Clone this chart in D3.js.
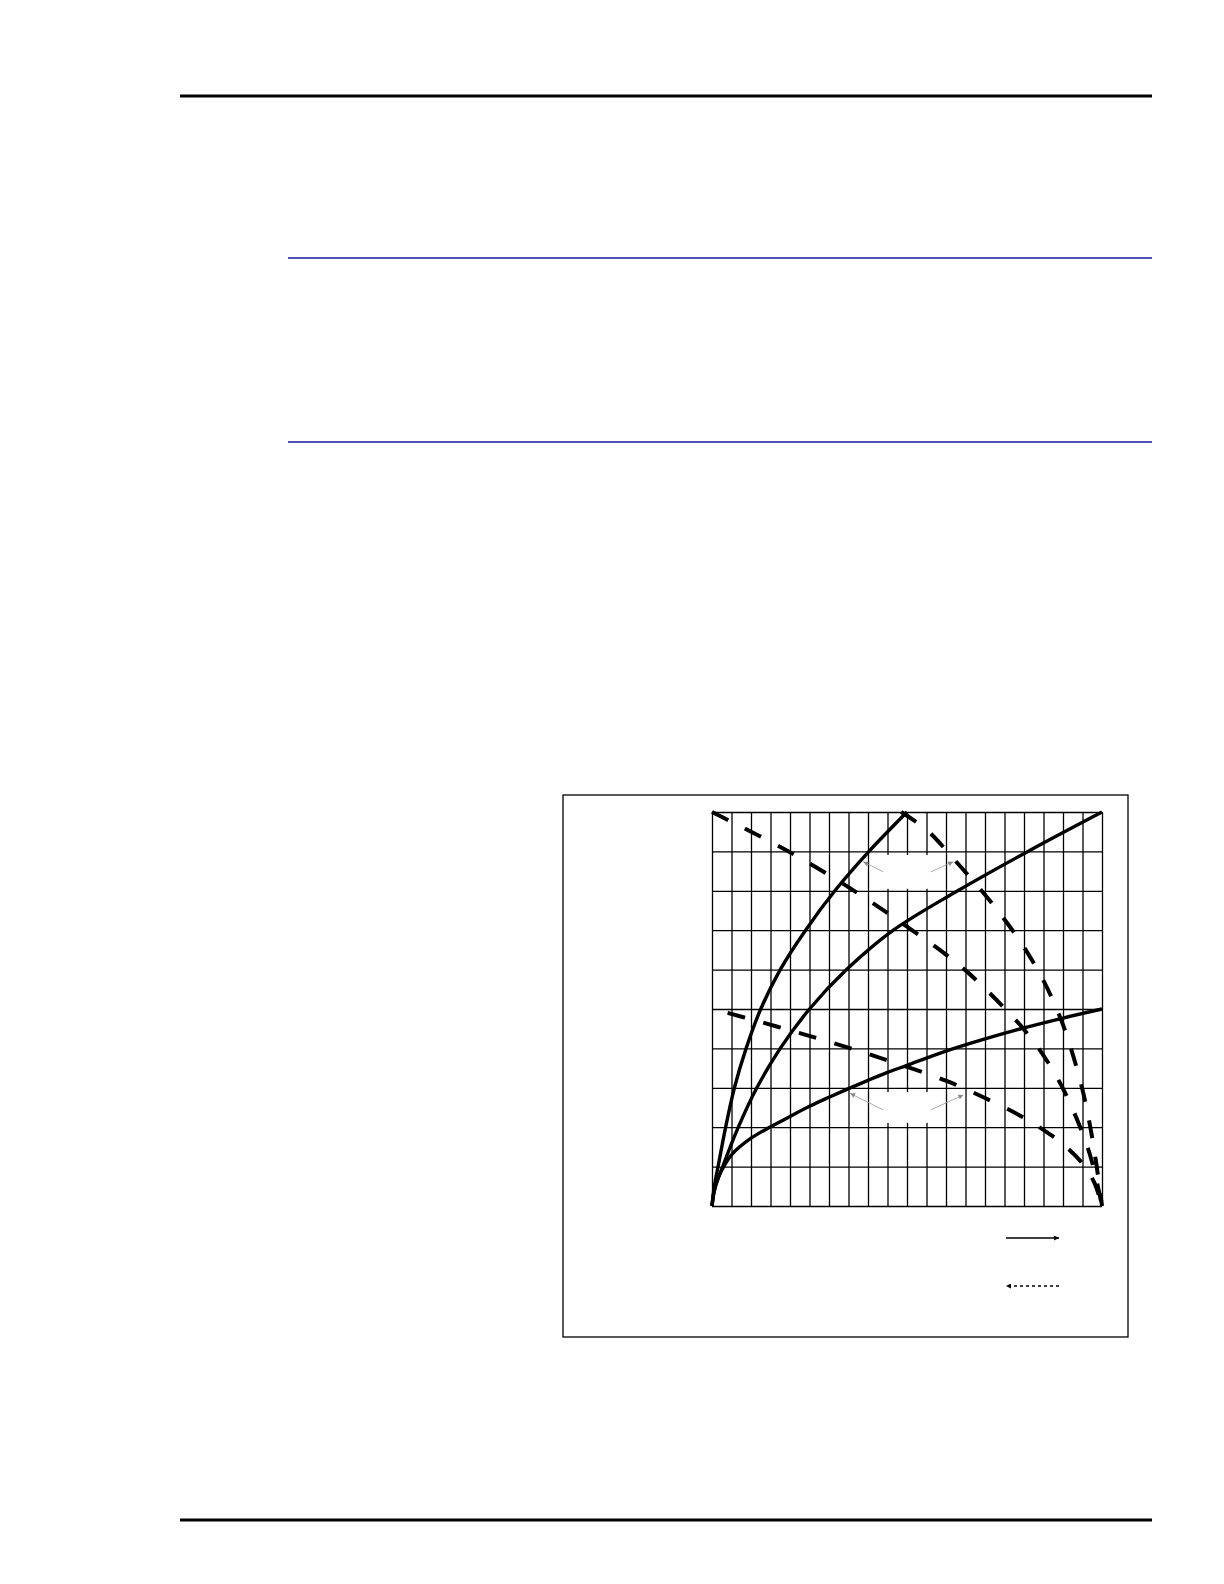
<!DOCTYPE html>
<html>
<head>
<meta charset="utf-8">
<script src="https://cdn.jsdelivr.net/npm/d3@7"></script>
<style>
  body { margin: 0; background: #fff; }
  svg { display: block; }
</style>
</head>
<body>
<div id="page"></div>
<script>
// grid divisions (the original chart has no tick labels)
const xGrid = [0, 1, 2, 3, 4, 5, 6, 7, 8, 9, 10, 11, 12, 13, 14, 15, 16, 17, 18, 19, 20];
const yGrid = [0, 1, 2, 3, 4, 5, 6, 7, 8, 9, 10];

// solid curves (forward)
const curveA = [[0, 0], [0.12, 0.5], [0.35, 1.1], [0.7, 2.0], [1.15, 3.0], [1.75, 4.0], [2.5, 5], [3.5, 6], [4.8, 7], [6.3, 8], [8.05, 9], [10, 10]];
const curveB = [[0, 0], [0.15, 0.45], [0.55, 1.0], [1.35, 2.0], [2.3, 3], [3.5, 4], [5.0, 5], [6.9, 6], [9.3, 7], [12.6, 8], [16.2, 9], [20, 10]];
const curveC = [[0, 0], [0.1, 0.35], [0.3, 0.7], [0.6, 1.0], [1.0, 1.3], [2.0, 1.72], [3.0, 2.01], [4.0, 2.27], [5.0, 2.53], [6.0, 2.76], [7.0, 2.98], [8.0, 3.19], [9, 3.39], [10, 3.57], [12, 3.93], [14, 4.24], [16, 4.52], [18, 4.77], [20, 5]];

// dashed curves (reverse)
const dashD1 = [[0, 10], [1, 9.75], [2, 9.5], [4, 8.98], [6, 8.4], [8, 7.77], [10, 7.09], [12, 6.38], [13, 5.98], [14, 5.52], [15, 5.02], [16, 4.48], [17, 3.82], [18, 2.98], [19, 1.85], [19.5, 1.1], [20, 0]];
const dashD2 = [[9.7, 10], [11, 9.55], [12.5, 8.75], [14, 7.9], [15, 7.27], [16, 6.57], [17, 5.72], [17.5, 5.2], [18, 4.6], [18.5, 3.85], [19, 2.95], [19.4, 2.0], [19.7, 1.1], [20, 0]];
const dashD3 = [[0.8, 4.9], [2, 4.74], [4, 4.46], [6, 4.17], [8, 3.86], [10, 3.53], [12, 3.18], [14, 2.74], [16, 2.24], [17, 1.93], [18, 1.57], [19, 1.08], [19.6, 0.6], [20, 0]];

// blank label boxes and their pointer arrows, in grid units
const labelBoxes = [[8.82, 8.05, 11.33, 8.91], [8.82, 2.11, 11.33, 2.89]];
const pointers = [
  [8.78, 8.48, 7.76, 8.74], [11.22, 8.48, 12.37, 8.74],
  [8.78, 2.44, 7.08, 2.86], [11.22, 2.44, 12.89, 2.82]
];

const svg = d3.select("#page")
  .append("svg")
  .attr("width", 1224)
  .attr("height", 1584);

// page rules
svg.append("line").attr("x1", 180).attr("x2", 1152).attr("y1", 96).attr("y2", 96)
  .attr("stroke", "#000").attr("stroke-width", 3);
svg.append("line").attr("x1", 180).attr("x2", 1152).attr("y1", 1520).attr("y2", 1520)
  .attr("stroke", "#000").attr("stroke-width", 3);
[258, 442].forEach(y => {
  svg.append("line").attr("x1", 288).attr("x2", 1152).attr("y1", y).attr("y2", y)
    .attr("stroke", "#1a1a9c").attr("stroke-width", 1.3);
});

// figure frame
svg.append("rect")
  .attr("x", 563).attr("y", 795)
  .attr("width", 565).attr("height", 542)
  .attr("fill", "none").attr("stroke", "#000").attr("stroke-width", 1.3);

const xScale = d3.scaleLinear().domain([0, 20]).range([712, 1102]);
const yScale = d3.scaleLinear().domain([0, 10]).range([1206, 812]);

const plotH = yScale(0) - yScale(10);
const plotW = xScale(20) - xScale(0);

// grid through axes
const xAxis = d3.axisBottom(xScale).tickValues(xGrid).tickSize(-plotH).tickFormat("");
svg.append("g")
  .attr("transform", `translate(0, ${yScale(0)})`)
  .call(xAxis)
  .call(g => g.select(".domain").remove())
  .call(g => g.selectAll("line").attr("stroke", "#000").attr("stroke-width", 1.3));

const yAxis = d3.axisLeft(yScale).tickValues(yGrid).tickSize(-plotW).tickFormat("");
svg.append("g")
  .attr("transform", `translate(${xScale(0)}, 0)`)
  .call(yAxis)
  .call(g => g.select(".domain").remove())
  .call(g => g.selectAll("line").attr("stroke", "#000").attr("stroke-width", 1.3));

// white boxes where the labels sat
svg.selectAll("rect.label")
  .data(labelBoxes)
  .join("rect")
  .attr("class", "label")
  .attr("x", d => xScale(d[0]))
  .attr("y", d => yScale(d[3]))
  .attr("width", d => xScale(d[2]) - xScale(d[0]))
  .attr("height", d => yScale(d[1]) - yScale(d[3]))
  .attr("fill", "#fff");

const line = d3.line()
  .x(d => xScale(d[0]))
  .y(d => yScale(d[1]))
  .curve(d3.curveCatmullRom.alpha(0.5));

[curveA, curveB, curveC].forEach(c => {
  svg.append("path").datum(c).attr("d", line)
    .attr("fill", "none").attr("stroke", "#000").attr("stroke-width", 3.4);
});
[dashD1, dashD2, dashD3].forEach(c => {
  svg.append("path").datum(c).attr("d", line)
    .attr("fill", "none").attr("stroke", "#000").attr("stroke-width", 4)
    .attr("stroke-dasharray", "18,19");
});

// arrow heads
const defs = svg.append("defs");
const marker = (id, color) => defs.append("marker")
  .attr("id", id)
  .attr("viewBox", "0 0 10 10")
  .attr("refX", 10).attr("refY", 5)
  .attr("markerWidth", 8).attr("markerHeight", 5)
  .attr("markerUnits", "userSpaceOnUse")
  .attr("orient", "auto")
  .append("path").attr("d", "M0,0 L10,5 L0,10 z").attr("fill", color);
marker("gray-head", "#888");
marker("black-head", "#000");

svg.selectAll("line.pointer")
  .data(pointers)
  .join("line")
  .attr("class", "pointer")
  .attr("x1", d => xScale(d[0])).attr("y1", d => yScale(d[1]))
  .attr("x2", d => xScale(d[2])).attr("y2", d => yScale(d[3]))
  .attr("stroke", "#999").attr("stroke-width", 0.8)
  .attr("marker-end", "url(#gray-head)");

// legend arrows (solid = forward, dashed = reverse)
svg.append("line")
  .attr("x1", 1006).attr("x2", 1059).attr("y1", 1238).attr("y2", 1238)
  .attr("stroke", "#000").attr("stroke-width", 1.3)
  .attr("marker-end", "url(#black-head)");
svg.append("line")
  .attr("x1", 1059).attr("x2", 1006).attr("y1", 1286).attr("y2", 1286)
  .attr("stroke", "#000").attr("stroke-width", 1.3)
  .attr("stroke-dasharray", "3,3")
  .attr("marker-end", "url(#black-head)");
</script>
</body>
</html>
